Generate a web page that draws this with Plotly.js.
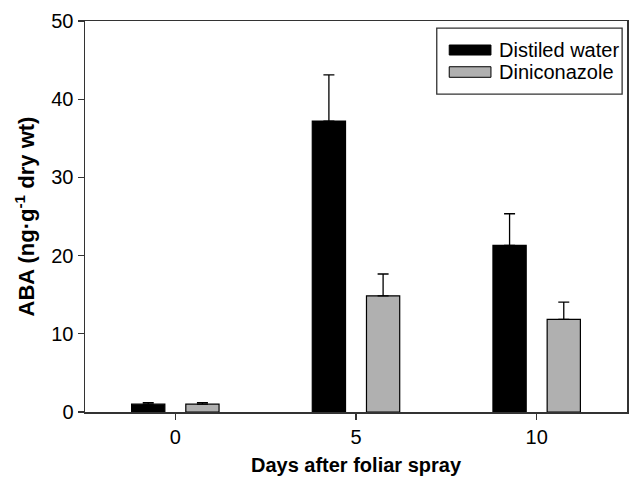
<!DOCTYPE html>
<html>
<head>
<meta charset="utf-8">
<script src="https://cdn.plot.ly/plotly-3.0.1.min.js"></script>
<style>html,body{margin:0;padding:0;background:#fff;}#chart{width:632px;height:478px;}</style>
</head>
<body>
<div id="chart"></div>
<script>
const days = [0, 5, 10];
const waterValues = [1.0, 37.2, 21.3];
const waterErrors = [0.2, 5.9, 4.05];
const dinicValues = [1.0, 14.85, 11.85];
const dinicErrors = [0.2, 2.8, 2.2];
const seriesNames = ["Distiled water", "Diniconazole"];
const seriesColors = ["#000000", "#b0b0b0"];
const yTicks = [0, 10, 20, 30, 40, 50];

const FONT = "Arial, 'Liberation Sans', sans-serif";

const traces = [
  {
    type: "bar", name: seriesNames[0], x: days, y: waterValues,
    width: 0.92, offset: -1.21, showlegend: false,
    marker: {color: seriesColors[0], line: {color: "#000000", width: 1.2}},
    error_y: {type: "data", symmetric: false, array: waterErrors, arrayminus: waterErrors.map(() => 0),
              color: "#000000", thickness: 1.3, width: 5.5}
  },
  {
    type: "bar", name: seriesNames[1], x: days, y: dinicValues,
    width: 0.92, offset: 0.29, showlegend: false,
    marker: {color: seriesColors[1], line: {color: "#000000", width: 1.2}},
    error_y: {type: "data", symmetric: false, array: dinicErrors, arrayminus: dinicErrors.map(() => 0),
              color: "#000000", thickness: 1.3, width: 5.5}
  }
];

// Legend drawn in paper coordinates (box, wide swatches, labels)
const legendBox = {x0: 0.649, x1: 0.991, y0: 0.813, y1: 0.982};
const swatchX = [0.672, 0.749];
const rowY = [[0.913, 0.9386], [0.856, 0.883]];
const shapes = [
  {type: "rect", xref: "paper", yref: "paper", x0: legendBox.x0, x1: legendBox.x1, y0: legendBox.y0, y1: legendBox.y1,
   line: {color: "#333333", width: 1.3}, fillcolor: "#ffffff", layer: "above"}
];
const annotations = [];
seriesNames.forEach((name, i) => {
  shapes.push({type: "rect", xref: "paper", yref: "paper", x0: swatchX[0], x1: swatchX[1], y0: rowY[i][0], y1: rowY[i][1],
               line: {color: "#000000", width: 1}, fillcolor: seriesColors[i], layer: "above"});
  annotations.push({xref: "paper", yref: "paper", x: 0.761, y: (rowY[i][0] + rowY[i][1]) / 2,
                    xanchor: "left", yanchor: "middle", showarrow: false, text: name,
                    font: {family: FONT, size: 20, color: "#000000"}});
});

const layout = {
  width: 632, height: 478,
  margin: {l: 85, r: 5, t: 21, b: 66},
  paper_bgcolor: "#ffffff", plot_bgcolor: "#ffffff",
  font: {family: FONT, size: 20, color: "#000000"},
  showlegend: false,
  barmode: "overlay",
  shapes: shapes,
  annotations: annotations,
  xaxis: {
    range: [-2.5, 12.5], tickvals: days, ticktext: days.map(String),
    ticks: "outside", ticklen: 6, tickwidth: 1.3, tickcolor: "#333333",
    showline: true, linecolor: "#333333", linewidth: 1.5, mirror: true,
    showgrid: false, zeroline: false,
    tickfont: {family: FONT, size: 20, color: "#000000"},
    title: {text: "<b>Days after foliar spray</b>", font: {family: FONT, size: 20, color: "#000000"}, standoff: 11}
  },
  yaxis: {
    range: [0, 50], tickvals: yTicks, ticktext: yTicks.map(String),
    ticks: "outside", ticklen: 6, tickwidth: 1.3, tickcolor: "#333333",
    showline: true, linecolor: "#333333", linewidth: 1.5, mirror: true,
    showgrid: false, zeroline: false,
    tickfont: {family: FONT, size: 20, color: "#000000"},
    title: {text: "<b>ABA (ng·g<sup>-1</sup> dry wt)</b>", font: {family: FONT, size: 22, color: "#000000"}, standoff: 10}
  }
};

Plotly.newPlot("chart", traces, layout, {displayModeBar: false, staticPlot: true});
</script>
</body>
</html>
